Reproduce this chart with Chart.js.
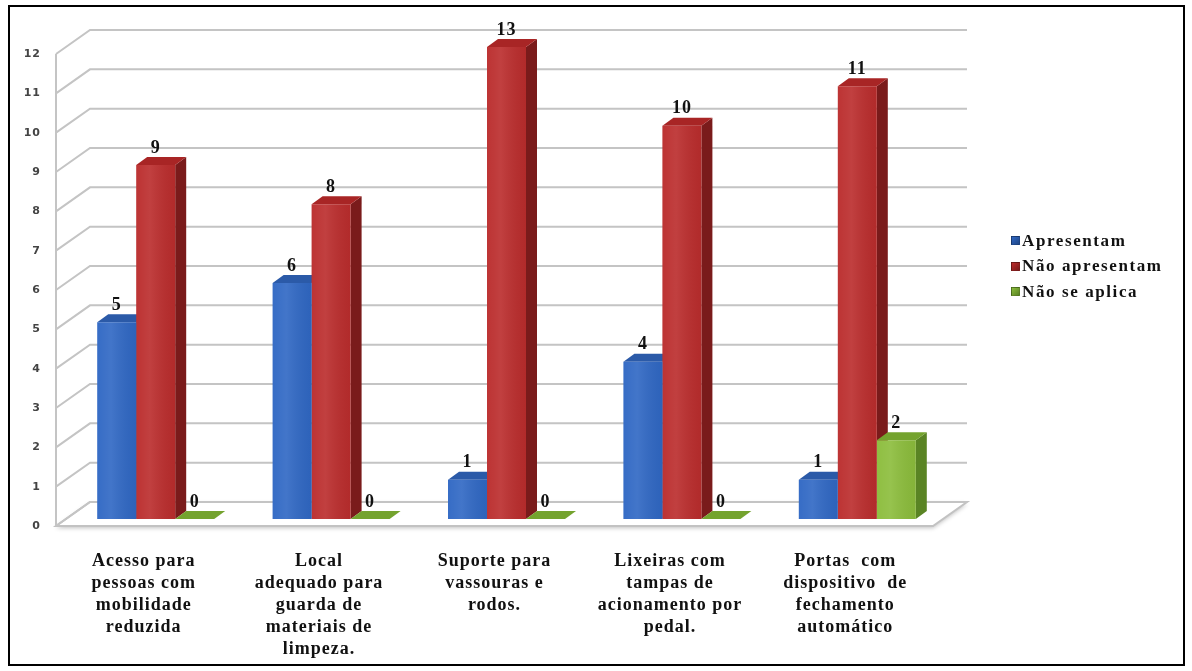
<!DOCTYPE html>
<html lang="pt">
<head>
<meta charset="utf-8">
<title>Gráfico</title>
<script src="https://cdn.jsdelivr.net/npm/chart.js@4.4.1/dist/chart.umd.min.js"></script>
<style>
    html, body { margin: 0; padding: 0; background: #fff; }
    .wrap { position: relative; width: 1192px; height: 671px; }
    #myChart { position: absolute; left: 0; top: 0; }
    .frame {
        position: absolute; left: 8px; top: 5px; width: 1177px; height: 661px;
        box-sizing: border-box; border: 2px solid #000; pointer-events: none;
    }
    .details { position: absolute; left: 1011px; top: 228px; }
    .details ul { list-style: none; margin: 0; padding: 0; }
    .details li {
        display: flex; align-items: center; height: 25.5px;
        font: bold 17px "Liberation Serif", serif; letter-spacing: 1.6px; color: #111;
    }
    .details span { width: 7px; height: 7px; margin-right: 2px; border: 1px solid rgba(0,0,0,0.25); }
</style>
</head>
<body>
<div class="wrap">
    <canvas id="myChart" width="1192" height="671"></canvas>
    <div class="frame"></div>
    <div class="details"><ul></ul></div>
</div>
<script>
// chart data
const categories = [
    ['Acesso para', 'pessoas com', 'mobilidade', 'reduzida'],
    ['Local', 'adequado para', 'guarda de', 'materiais de', 'limpeza.'],
    ['Suporte para', 'vassouras e', 'rodos.'],
    ['Lixeiras com', 'tampas de', 'acionamento por', 'pedal.'],
    ['Portas  com', 'dispositivo  de', 'fechamento', 'automático']
];
const seriesNames = ['Apresentam', 'Não apresentam', 'Não se aplica'];
const apresentam = [5, 6, 1, 4, 1];
const naoApresentam = [9, 8, 13, 10, 11];
const naoSeAplica = [0, 0, 0, 0, 2];
const yMin = 0;
const yMax = 12;

// colours: front, top, side
const frontColors = ['#3068c4', '#bb2d2d', '#8cbd3c'];
const topColors = ['#2b5aa8', '#a82525', '#74a32e'];
const sideColors = ['#1f4686', '#7a1b1b', '#5a8424'];

const ctx = document.getElementById('myChart');
const details = document.querySelector('.details ul');

const DX = 11, DY = 8;           // bar depth
const FRONT = { x: -12, y: 7 };  // front edge of walls
const BACK = { x: 22, y: -17 };  // back wall

const walls3d = {
    id: 'walls3d',
    beforeDatasetsDraw(chart) {
        const { ctx, chartArea: a, scales: { y } } = chart;
        const y0 = y.getPixelForValue(0);
        const yTop = y.getPixelForValue(yMax);
        ctx.save();

        // floor
        ctx.beginPath();
        ctx.moveTo(a.left + FRONT.x, y0 + FRONT.y);
        ctx.lineTo(a.right + FRONT.x, y0 + FRONT.y);
        ctx.lineTo(a.right + BACK.x, y0 + BACK.y);
        ctx.lineTo(a.left + BACK.x, y0 + BACK.y);
        ctx.closePath();
        ctx.shadowColor = 'rgba(0,0,0,0.25)';
        ctx.shadowBlur = 4;
        ctx.shadowOffsetY = 2;
        ctx.fillStyle = '#fff';
        ctx.fill();
        ctx.shadowColor = 'transparent';
        ctx.strokeStyle = '#c2c2c2';
        ctx.lineWidth = 2;
        ctx.stroke();

        // grid lines with the left wall diagonals
        ctx.beginPath();
        y.ticks.forEach(t => {
            const py = y.getPixelForValue(t.value);
            ctx.moveTo(a.left + FRONT.x, py + FRONT.y);
            ctx.lineTo(a.left + BACK.x, py + BACK.y);
            ctx.lineTo(a.right + BACK.x, py + BACK.y);
        });
        ctx.moveTo(a.left + FRONT.x, yTop + FRONT.y);
        ctx.lineTo(a.left + FRONT.x, y0 + FRONT.y);
        ctx.strokeStyle = '#c4c4c4';
        ctx.lineWidth = 2;
        ctx.stroke();

        // bar sides then tops
        const metas = chart.getSortedVisibleDatasetMetas();
        const faces = [];
        metas.forEach(meta => {
            meta.data.forEach(bar => {
                const p = bar.getProps(['x', 'y', 'base', 'width'], true);
                faces.push({ i: meta.index, left: p.x - p.width / 2, right: p.x + p.width / 2,
                    top: Math.max(p.y, a.top), base: p.base });
            });
        });
        faces.forEach(f => {
            ctx.beginPath();
            ctx.moveTo(f.right, f.top);
            ctx.lineTo(f.right + DX, f.top - DY);
            ctx.lineTo(f.right + DX, f.base - DY);
            ctx.lineTo(f.right, f.base);
            ctx.closePath();
            ctx.fillStyle = sideColors[f.i];
            ctx.fill();
        });
        faces.forEach(f => {
            ctx.beginPath();
            ctx.moveTo(f.left, f.top);
            ctx.lineTo(f.left + DX, f.top - DY);
            ctx.lineTo(f.right + DX, f.top - DY);
            ctx.lineTo(f.right, f.top);
            ctx.closePath();
            ctx.fillStyle = topColors[f.i];
            ctx.fill();
        });
        ctx.restore();
    },
    afterDatasetsDraw(chart) {
        const { ctx, chartArea: a } = chart;
        ctx.save();
        chart.getSortedVisibleDatasetMetas().forEach(meta => {
            meta.data.forEach((bar, idx) => {
                const p = bar.getProps(['x', 'y', 'base', 'width'], true);
                const top = Math.max(p.y, a.top);
                const left = p.x - p.width / 2;
                // soft highlight on the front face
                if (p.base - top > 1) {
                    const g = ctx.createLinearGradient(left, 0, left + p.width, 0);
                    g.addColorStop(0, 'rgba(255,255,255,0.03)');
                    g.addColorStop(0.35, 'rgba(255,255,255,0.09)');
                    g.addColorStop(1, 'rgba(0,0,0,0.05)');
                    ctx.fillStyle = g;
                    ctx.fillRect(left, top, p.width, p.base - top);
                }
                const value = chart.data.datasets[meta.index].data[idx];
                ctx.fillStyle = '#111';
                ctx.font = 'bold 18px "Liberation Serif", serif';
                ctx.textAlign = 'center';
                ctx.textBaseline = 'middle';
                ctx.fillText(value, p.x, top - 17);
            });
        });
        ctx.restore();
    },
    beforeDraw(chart) {
        chart.ctx.letterSpacing = '1px';
    }
};

new Chart(ctx, {
    type: 'bar',
    data: {
        labels: categories,
        datasets: [
            { label: seriesNames[0], data: apresentam, backgroundColor: frontColors[0] },
            { label: seriesNames[1], data: naoApresentam, backgroundColor: frontColors[1] },
            { label: seriesNames[2], data: naoSeAplica, backgroundColor: frontColors[2] }
        ]
    },
    options: {
        responsive: false,
        animation: false,
        barPercentage: 1,
        categoryPercentage: 0.667,
        layout: { padding: { top: 47, right: 247, left: 0, bottom: 0 } },
        scales: {
            x: {
                grid: { display: false },
                border: { display: false },
                afterFit: (scale) => { scale.height = 152; },
                ticks: {
                    autoSkip: false,
                    maxRotation: 0,
                    padding: 23,
                    labelOffset: -12,
                    color: '#111',
                    font: { family: '"Liberation Serif", serif', size: 18, weight: 'bold', lineHeight: '22px' }
                }
            },
            y: {
                min: yMin,
                max: yMax,
                grid: { display: false, drawTicks: false },
                border: { display: false },
                afterFit: (scale) => { scale.width = 68; },
                ticks: {
                    stepSize: 1,
                    padding: 27,
                    labelOffset: 7,
                    color: '#444',
                    font: { family: '"DejaVu Sans", sans-serif', size: 11, weight: 'bold' }
                }
            }
        },
        plugins: {
            legend: { display: false },
            tooltip: { enabled: false }
        }
    },
    plugins: [walls3d]
});

const populateUl = () => {
    seriesNames.forEach((l, i) => {
        details.innerHTML += `
            <li>
                <span style="background: linear-gradient(135deg, ${frontColors[i]}, ${sideColors[i]});"></span>
                ${l}
            </li>
        `;
    });
};

populateUl();
</script>
</body>
</html>
